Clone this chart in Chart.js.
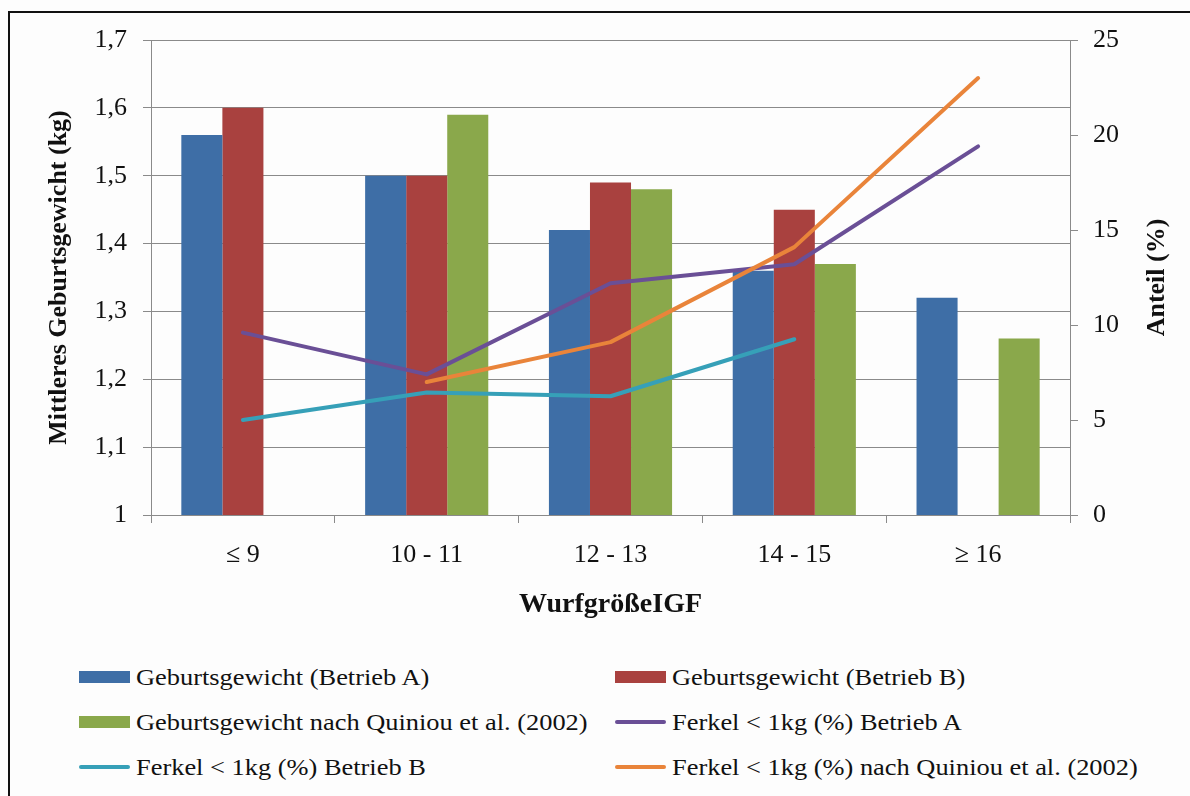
<!DOCTYPE html>
<html>
<head>
<meta charset="utf-8">
<script src="https://cdn.jsdelivr.net/npm/chart.js@4/dist/chart.umd.min.js"></script>
<style>
html,body{margin:0;padding:0;background:#fdfdfd;}
body{width:1190px;height:796px;position:relative;overflow:hidden;font-family:"Liberation Serif","DejaVu Serif","Times New Roman",serif;}
#frame{position:absolute;left:8px;top:11px;width:1300px;height:900px;border-left:2px solid #111;border-top:2px solid #111;}
#chart{position:absolute;left:0;top:0;}
.leg{position:absolute;font-size:24px;color:#111;white-space:nowrap;line-height:1;transform:scaleX(1.1);transform-origin:left center;}
.sym{position:absolute;width:51px;}
</style>
</head>
<body>
<div id="frame"></div>
<canvas id="chart" width="1190" height="640"></canvas>
<div id="legend"></div>
<script>
// data
const categories = ['≤ 9', '10 - 11', '12 - 13', '14 - 15', '≥ 16'];
const gewichtA = [1.56, 1.50, 1.42, 1.36, 1.32];
const gewichtB = [1.60, 1.50, 1.49, 1.45, null];
const gewichtQuiniou = [null, 1.59, 1.48, 1.37, 1.26];
const anteilA = [9.6, 7.4, 12.2, 13.2, 19.4];
const anteilB = [5.0, 6.45, 6.25, 9.25, null];
const anteilQuiniou = [null, 7.0, 9.1, 14.1, 23.0];

const gridCol = '#8a8a8a';
const font = '"Liberation Serif", "DejaVu Serif", "Times New Roman", serif';

const barSets = [
  { label: 'Geburtsgewicht (Betrieb A)', data: gewichtA, color: '#3e6ea6' },
  { label: 'Geburtsgewicht (Betrieb B)', data: gewichtB, color: '#a9413f' },
  { label: 'Geburtsgewicht nach Quiniou et al. (2002)', data: gewichtQuiniou, color: '#8aa84b' }
];
const lineSets = [
  { label: 'Ferkel < 1kg (%) Betrieb A', data: anteilA, color: '#6a4f96', order: 1 },
  { label: 'Ferkel < 1kg (%) Betrieb B', data: anteilB, color: '#36a0b8', order: 1 },
  { label: 'Ferkel < 1kg (%) nach Quiniou et al. (2002)', data: anteilQuiniou, color: '#e9843a', order: 0 }
];

const datasets = barSets.map(s => ({
  type: 'bar', label: s.label, data: s.data, backgroundColor: s.color,
  yAxisID: 'y', order: 5, categoryPercentage: 0.67, barPercentage: 1.0
})).concat(lineSets.map(s => ({
  type: 'line', label: s.label, data: s.data, borderColor: s.color, backgroundColor: s.color,
  borderWidth: 4, pointRadius: 0, tension: 0, spanGaps: false, yAxisID: 'y1', order: s.order,
  borderCapStyle: 'round', borderJoinStyle: 'round'
})));

// right axis title reads bottom-to-top, like the left one
const rightTitle = {
  id: 'rightTitle',
  afterDraw(chart) {
    const s = chart.scales.y1, ctx = chart.ctx;
    ctx.save();
    ctx.translate(s.right - 33, (s.top + s.bottom) / 2);
    ctx.rotate(-Math.PI / 2);
    ctx.font = 'bold 26px ' + font;
    ctx.fillStyle = '#111';
    ctx.textAlign = 'center';
    ctx.textBaseline = 'middle';
    ctx.fillText('Anteil (%)', 0, 0);
    ctx.restore();
  }
};

new Chart(document.getElementById('chart'), {
  data: { labels: categories, datasets },
  plugins: [rightTitle],
  options: {
    responsive: false, animation: false,
    layout: { padding: { top: 40, left: 0, right: 0, bottom: 0 } },
    plugins: { legend: { display: false }, tooltip: { enabled: false } },
    scales: {
      x: {
        offset: true,
        grid: { display: true, drawOnChartArea: false, drawTicks: true, tickLength: 8, color: gridCol, offset: true },
        border: { color: gridCol },
        ticks: { color: '#111', font: { family: font, size: 26 }, padding: 17, maxRotation: 0 },
        title: { display: true, text: 'WurfgrößeIGF', color: '#111', font: { family: font, size: 28, weight: 'bold' }, padding: { top: 0, bottom: 18 } },
        afterFit(axis) { axis.height = 125; }
      },
      y: {
        position: 'left', min: 1, max: 1.7,
        grid: { color: gridCol, tickLength: 8 },
        border: { color: gridCol },
        ticks: {
          stepSize: 0.1, color: '#111', padding: 16, font: { family: font, size: 26 },
          callback: v => { const r = Math.round(v * 10) / 10; return r === 1 ? '1' : r.toFixed(1).replace('.', ','); }
        },
        title: { display: true, text: 'Mittleres Geburtsgewicht (kg)', color: '#111', font: { family: font, size: 26, weight: 'bold' }, padding: { top: 44, bottom: 0 } },
        afterFit(axis) { axis.width = 151; }
      },
      y1: {
        position: 'right', min: 0, max: 25,
        grid: { drawOnChartArea: false, color: gridCol, tickLength: 8 },
        border: { color: gridCol },
        ticks: { stepSize: 5, color: '#111', padding: 15, font: { family: font, size: 26 } },
        afterFit(axis) { axis.width = 120; }
      }
    }
  }
});

// legend, two columns like the original
const legendItems = [
  { label: barSets[0].label, color: barSets[0].color, bar: true },
  { label: barSets[1].label, color: barSets[1].color, bar: true },
  { label: barSets[2].label, color: barSets[2].color, bar: true },
  { label: lineSets[0].label, color: lineSets[0].color, bar: false },
  { label: lineSets[1].label, color: lineSets[1].color, bar: false },
  { label: lineSets[2].label, color: lineSets[2].color, bar: false }
];
const colX = [79, 615];
const rowY = [677, 722, 767];
const legend = document.getElementById('legend');
legendItems.forEach((it, i) => {
  const x = colX[i % 2], y = rowY[Math.floor(i / 2)];
  const sym = document.createElement('div');
  sym.className = 'sym';
  sym.style.left = x + 'px';
  sym.style.background = it.color;
  if (it.bar) { sym.style.top = (y - 6) + 'px'; sym.style.height = '12px'; }
  else { sym.style.top = (y - 2) + 'px'; sym.style.height = '4px'; sym.style.borderRadius = '2px'; }
  legend.appendChild(sym);
  const t = document.createElement('div');
  t.className = 'leg';
  t.textContent = it.label;
  t.style.left = (x + 57) + 'px';
  t.style.top = (y - 12) + 'px';
  legend.appendChild(t);
});
</script>
</body>
</html>
